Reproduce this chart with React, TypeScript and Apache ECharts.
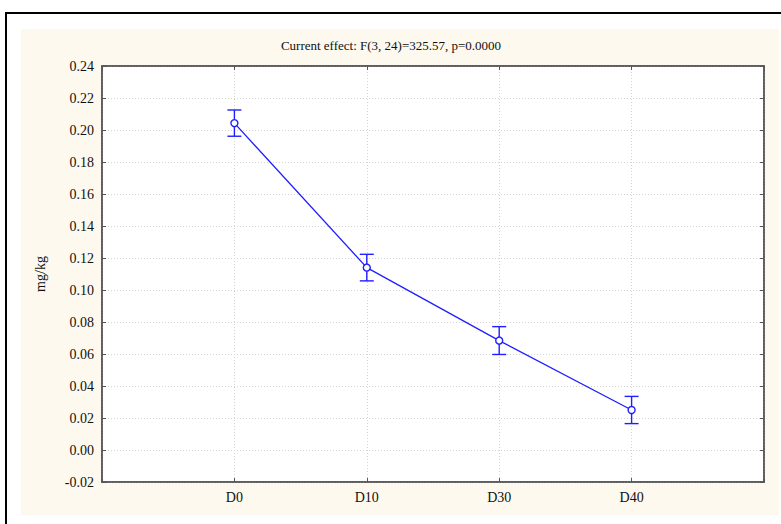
import React, { useEffect, useRef } from "react";
import * as echarts from "echarts";

// Sampling days (padded with blank slots so the points sit at 1/5 .. 4/5 of the width)
const categories = ["", "D0", "D10", "D30", "D40", ""];
const days = ["D0", "D10", "D30", "D40"];
// Mean concentration (mg/kg) per day
const means = [0.2043, 0.114, 0.0684, 0.025];
// Lower / upper error limits
const lower = [0.1961, 0.1057, 0.0597, 0.0165];
const upper = [0.2125, 0.1223, 0.0771, 0.0335];
const yTicksMin = -0.02;
const yTicksMax = 0.24;
const yStep = 0.02;

const titleText = "Current effect: F(3, 24)=325.57, p=0.0000";
const yName = "mg/kg";

const BLUE = "#1f1fff";
const FONT = "'Liberation Serif', 'Times New Roman', serif";

export default function App() {
  const ref = useRef<HTMLDivElement>(null);

  useEffect(() => {
    if (!ref.current) return;
    const chart = echarts.init(ref.current, null, { renderer: "svg" });

    const lineData = days.map((d, i) => [categories.indexOf(d), means[i]]);
    const errData = days.map((d, i) => [categories.indexOf(d), lower[i], upper[i]]);

    const gridStyle = { type: [1, 2] as number[], color: "#d4d4d4", width: 1 };
    const axisLine = { show: true, onZero: false, lineStyle: { color: "#555", width: 1.5 } };
    const tick = { show: true, inside: true, length: 4, lineStyle: { color: "#555" } };

    chart.setOption({
      animation: false,
      backgroundColor: "#ffffff",
      textStyle: { fontFamily: FONT },
      graphic: [
        {
          type: "rect",
          z: -10,
          shape: { x: 21, y: 29, width: 758, height: 486 },
          style: { fill: "#fdf9ee" },
          silent: true,
        },
        {
          type: "rect",
          z: 100,
          shape: { x: 6, y: 13, width: 800, height: 540 },
          style: { fill: "none", stroke: "#000", lineWidth: 2 },
          silent: true,
        },
        {
          type: "text",
          x: 391,
          y: 45,
          style: {
            text: titleText,
            font: `13px ${FONT}`,
            fill: "#111",
            align: "center",
            verticalAlign: "middle",
          },
        },
      ],
      grid: {
        left: 102,
        top: 66,
        width: 662,
        height: 416,
        show: true,
        backgroundColor: "#ffffff",
        borderColor: "#555",
        borderWidth: 1.5,
      },
      xAxis: [
        {
          type: "category",
          data: categories,
          boundaryGap: false,
          position: "bottom",
          axisLine,
          axisTick: tick,
          axisLabel: {
            color: "#111",
            fontFamily: FONT,
            fontSize: 14,
            margin: 8,
            interval: 0,
          },
          splitLine: { show: true, lineStyle: gridStyle },
        },
        {
          type: "category",
          data: categories,
          boundaryGap: false,
          position: "top",
          axisLine,
          axisTick: tick,
          axisLabel: { show: false },
          splitLine: { show: false },
        },
      ],
      yAxis: [
        {
          type: "value",
          min: yTicksMin,
          max: yTicksMax,
          interval: yStep,
          position: "left",
          name: yName,
          nameLocation: "middle",
          nameRotate: 90,
          nameGap: 55,
          nameTextStyle: { color: "#111", fontFamily: FONT, fontSize: 14 },
          axisLine,
          axisTick: tick,
          axisLabel: {
            color: "#111",
            fontFamily: FONT,
            fontSize: 14,
            margin: 8,
            formatter: (v: number) => v.toFixed(2),
          },
          splitLine: { show: true, lineStyle: gridStyle },
        },
        {
          type: "value",
          min: yTicksMin,
          max: yTicksMax,
          interval: yStep,
          position: "right",
          axisLine,
          axisTick: tick,
          axisLabel: { show: false },
          splitLine: { show: false },
        },
      ],
      series: [
        {
          type: "custom",
          xAxisIndex: 0,
          yAxisIndex: 0,
          z: 3,
          data: errData,
          renderItem: (_params: any, api: any) => {
            const x = api.value(0);
            const lo = api.coord([x, api.value(1)]);
            const hi = api.coord([x, api.value(2)]);
            const half = 7;
            const style = { stroke: BLUE, lineWidth: 1.4 };
            return {
              type: "group",
              children: [
                { type: "line", shape: { x1: lo[0], y1: lo[1], x2: hi[0], y2: hi[1] }, style },
                { type: "line", shape: { x1: hi[0] - half, y1: hi[1], x2: hi[0] + half, y2: hi[1] }, style },
                { type: "line", shape: { x1: lo[0] - half, y1: lo[1], x2: lo[0] + half, y2: lo[1] }, style },
              ],
            };
          },
        },
        {
          type: "line",
          xAxisIndex: 0,
          yAxisIndex: 0,
          z: 4,
          data: lineData,
          symbol: "circle",
          symbolSize: 7,
          showAllSymbol: true,
          lineStyle: { color: BLUE, width: 1.3 },
          itemStyle: { color: "#ffffff", borderColor: BLUE, borderWidth: 1.4 },
        },
      ],
    });

    return () => chart.dispose();
  }, []);

  return (
    <div
      ref={ref}
      style={{ position: "fixed", left: 0, top: 0, width: 781, height: 524 }}
    />
  );
}
